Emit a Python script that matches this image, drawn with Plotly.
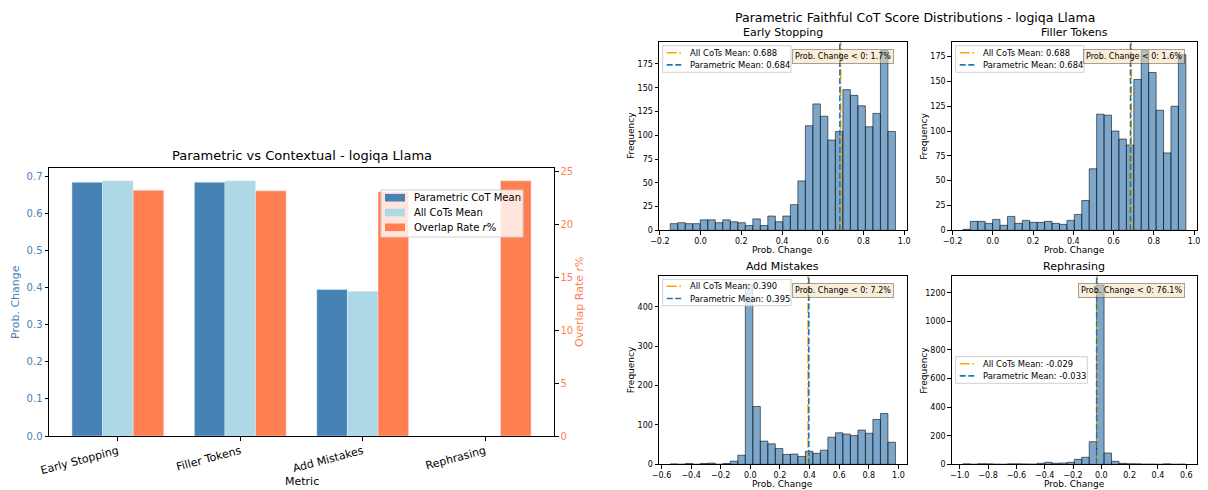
import numpy as np
import plotly.graph_objects as go

# page body has an 8px margin, so the figure is drawn 8px smaller and
# every pixel position below is given in screen pixels
W, H, OFF = 1208, 490, 8
FONT = 'DejaVu Sans'

# ---- data ----
metrics = ['Early Stopping', 'Filler Tokens', 'Add Mistakes', 'Rephrasing']
parametric_mean = [0.684, 0.684, 0.395, -0.033]
all_cots_mean = [0.688, 0.688, 0.390, -0.029]
overlap_rate = [23.2, 23.15, 23.05, 24.1]
neg_share = [1.7, 1.6, 7.2, 76.1]

# histogram counts, 30 bins between data min and max
es_counts = [7, 8, 7, 7, 11, 11, 8, 11, 9, 8, 5, 12, 5, 15, 9, 15, 27, 52,
             110, 133, 120, 95, 104, 148, 142, 131, 109, 123, 189, 104]
ft_counts = [1, 9, 9, 7, 11, 5, 14, 7, 10, 8, 8, 9, 7, 6, 10, 16, 30, 62,
             117, 116, 100, 92, 86, 152, 181, 159, 121, 78, 125, 177]
am_counts = [1, 0, 2, 0, 2, 3, 0, 2, 8, 23, 456, 147, 59, 52, 40, 25, 26, 20,
             33, 28, 36, 69, 80, 77, 73, 87, 79, 114, 129, 56]
rp_counts = [3, 0, 4, 3, 1, 0, 3, 3, 2, 1, 7, 14, 7, 9, 14, 35, 49, 158,
             1254, 79, 21, 7, 4, 3, 1, 1, 0, 3, 0, 1]
es_range = (-0.149, 0.957)
ft_range = (-0.149, 0.959)
am_range = (-0.541, 0.980)
rp_range = (-0.978, 0.597)

hist_counts = [es_counts, ft_counts, am_counts, rp_counts]
hist_ranges = [es_range, ft_range, am_range, rp_range]

ORANGE = '#FFA500'
BLUE = '#1f77b4'
DASH = '6px,2.6px'
DASHDOT = '10px,2.6px,1.6px,2.6px'


def px_x(v):
    return (v - OFF) / (W - OFF)


def px_y(v):
    return 1 - (v - OFF) / (H - OFF)


def axis_style(**kw):
    d = dict(showline=True, linecolor='black', linewidth=1, mirror=True,
             ticks='outside', ticklen=3.5, tickcolor='black', showgrid=False,
             zeroline=False, tickfont=dict(size=8, color='black', family=FONT),
             automargin=False)
    d.update(kw)
    return d


def text(s, x, y, size, color='black', angle=0, xanchor='center', yanchor='middle'):
    return dict(text=s, x=px_x(x), y=px_y(y), xref='paper', yref='paper', showarrow=False,
                textangle=angle, xanchor=xanchor, yanchor=yanchor,
                font=dict(size=size, color=color, family=FONT))


fig = go.Figure()
annotations = []
shapes = []
layout = {}


def legend_box(x0, y0, x1, y1):
    shapes.append(dict(type='rect', xref='paper', yref='paper', layer='above',
                       x0=px_x(x0), x1=px_x(x1), y0=px_y(y0), y1=px_y(y1),
                       fillcolor='rgba(255,255,255,0.8)', line=dict(color='#d0d0d0', width=1)))


# ---- left: bar chart ----
L, R, T, B = 49, 554, 168, 436
pos = np.arange(len(metrics))
bar_names = ['Parametric CoT Mean', 'All CoTs Mean', 'Overlap Rate <i>r</i>%']
bar_colors = ['steelblue', 'lightblue', 'coral']
fig.add_trace(go.Bar(x=pos - 0.25, y=parametric_mean, width=0.25, marker_color=bar_colors[0],
                     name=bar_names[0], xaxis='x', yaxis='y'))
fig.add_trace(go.Bar(x=pos, y=all_cots_mean, width=0.25, marker_color=bar_colors[1],
                     name=bar_names[1], xaxis='x', yaxis='y'))
fig.add_trace(go.Bar(x=pos + 0.25, y=overlap_rate, width=0.25, marker_color=bar_colors[2],
                     name=bar_names[2], xaxis='x', yaxis='y2'))

ymax_left = max(all_cots_mean + parametric_mean) * 1.05
ymax_right = max(overlap_rate) * 1.05
layout['xaxis'] = axis_style(domain=[px_x(L), px_x(R)], anchor='y', range=[-0.5625, 3.5625],
                             tickvals=list(pos), ticktext=metrics, tickangle=-15,
                             tickfont=dict(size=11, color='black', family=FONT))
layout['yaxis'] = axis_style(domain=[px_y(B), px_y(T)], anchor='x', range=[0, ymax_left],
                             dtick=0.1, tickformat='.1f',
                             tickfont=dict(size=10, color='steelblue', family=FONT))
layout['yaxis2'] = axis_style(overlaying='y', side='right', anchor='x', range=[0, ymax_right],
                              dtick=5, mirror=False,
                              tickfont=dict(size=10, color='coral', family=FONT))

annotations.append(text('Parametric vs Contextual - logiqa Llama', (L + R) / 2, T - 3, 13, yanchor='bottom'))
annotations.append(text('Prob. Change', 15, (T + B) / 2, 11, 'steelblue', -90))
annotations.append(text('Overlap Rate <i>r</i>%', 579, (T + B) / 2, 11, 'coral', -90))
annotations.append(text('Metric', (L + R) / 2, 481, 11))

# legend of the bar chart
legend_box(381, 190, 523, 237)
for k in range(3):
    yc = 197.7 + k * 14.8
    shapes.append(dict(type='rect', xref='paper', yref='paper', layer='above',
                       x0=px_x(385), x1=px_x(405), y0=px_y(yc - 3.8), y1=px_y(yc + 3.8),
                       fillcolor=bar_colors[k], line=dict(width=0)))
    annotations.append(text(bar_names[k], 412, yc, 10, xanchor='left'))

# ---- right: histograms ----
boxes = [(659, 906.7, 41.7, 230.3), (951.7, 1197, 41.7, 230.3),
         (659, 906.7, 276, 464.3), (951.7, 1197, 276, 464.3)]
legend_boxes = [(662.7, 45.7, 791, 72.3), (955.7, 45.7, 1084, 72.3),
                (662.7, 279.3, 791, 305.7), (955.7, 356.7, 1087.3, 383.3)]
x_dticks = [0.2, 0.2, 0.2, 0.2]
y_dticks = [25, 25, 100, 200]

for i in range(4):
    l, r, t, b = boxes[i]
    xa = 'x%d' % (i + 2)
    ya = 'y%d' % (i + 3)
    lo, hi = hist_ranges[i]
    counts = hist_counts[i]
    edges = np.linspace(lo, hi, len(counts) + 1)
    centers = (edges[:-1] + edges[1:]) / 2
    bw = edges[1] - edges[0]
    ymax = max(counts) * 1.05

    fig.add_trace(go.Bar(x=centers, y=counts, width=bw, xaxis=xa, yaxis=ya,
                         marker=dict(color='rgba(70,130,180,0.7)',
                                     line=dict(color='rgba(0,0,0,0.7)', width=0.8))))
    fig.add_trace(go.Scatter(x=[all_cots_mean[i]] * 2, y=[0, ymax], mode='lines', xaxis=xa, yaxis=ya,
                             line=dict(color=ORANGE, dash=DASHDOT, width=1.6),
                             name='All CoTs Mean: %.3f' % all_cots_mean[i]))
    fig.add_trace(go.Scatter(x=[parametric_mean[i]] * 2, y=[0, ymax], mode='lines', xaxis=xa, yaxis=ya,
                             line=dict(color=BLUE, dash=DASH, width=1.6),
                             name='Parametric Mean: %.3f' % parametric_mean[i]))

    span = hi - lo
    layout['xaxis%d' % (i + 2)] = axis_style(domain=[px_x(l), px_x(r)], anchor=ya,
                                             range=[lo - 0.05 * span, hi + 0.05 * span],
                                             dtick=x_dticks[i], tick0=0, tickformat='.1f')
    layout['yaxis%d' % (i + 3)] = axis_style(domain=[px_y(b), px_y(t)], anchor=xa,
                                             range=[0, ymax], dtick=y_dticks[i])

    # legend
    bx0, by0, bx1, by1 = legend_boxes[i]
    legend_box(bx0, by0, bx1, by1)
    entries = [('All CoTs Mean: %.3f' % all_cots_mean[i], ORANGE, DASHDOT),
               ('Parametric Mean: %.3f' % parametric_mean[i], BLUE, DASH)]
    for k, (lab, col, dsh) in enumerate(entries):
        yc = by0 + 7 + k * 12.2
        shapes.append(dict(type='line', xref='paper', yref='paper', layer='above',
                           x0=px_x(bx0 + 4), x1=px_x(bx0 + 20), y0=px_y(yc), y1=px_y(yc),
                           line=dict(color=col, dash=dsh, width=1.6)))
        annotations.append(text(lab, bx0 + 25.5, yc, 8.4, xanchor='left'))

    annotations.append(text(metrics[i], (l + r) / 2, t - 1, 11, yanchor='bottom'))
    annotations.append(text('Prob. Change', (l + r) / 2, b + 20, 9))
    annotations.append(text('Frequency', l - 28, (t + b) / 2, 9, angle=-90))
    annotations.append(dict(text='Prob. Change < 0: %.1f%%' % neg_share[i], x=0.95, y=0.962,
                            xref=xa + ' domain', yref=ya + ' domain', xanchor='right', yanchor='top',
                            showarrow=False, bgcolor='rgba(245,222,179,0.5)',
                            bordercolor='rgba(0,0,0,0.35)', borderwidth=1, borderpad=2,
                            font=dict(size=8, color='black', family=FONT)))

annotations.append(text('Parametric Faithful CoT Score Distributions - logiqa Llama', 915, 17, 12.5))

fig.update_layout(width=W - OFF, height=H - OFF, margin=dict(l=0, r=0, t=0, b=0),
                  plot_bgcolor='white', paper_bgcolor='white', barmode='overlay', showlegend=False,
                  font=dict(family=FONT, color='black'), annotations=annotations, shapes=shapes,
                  **layout)

fig.write_html('out.html')
